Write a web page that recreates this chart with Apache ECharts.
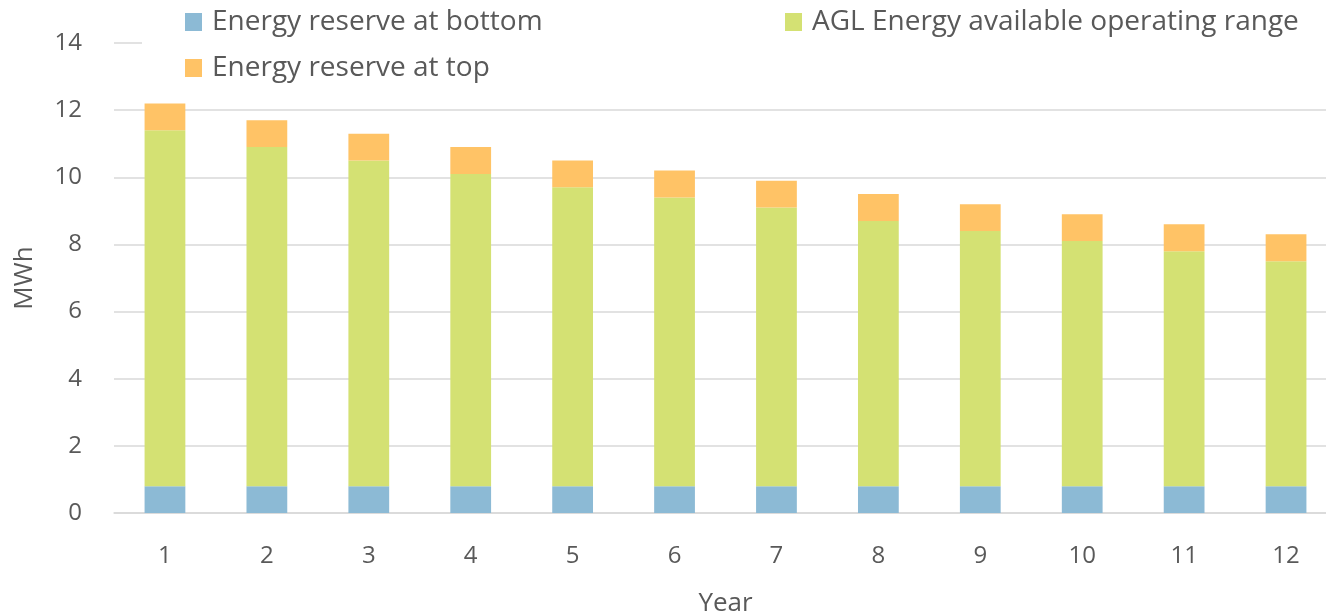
<!DOCTYPE html>
<html>
<head>
<meta charset="utf-8">
<script src="https://cdn.jsdelivr.net/npm/echarts@6/dist/echarts.min.js"></script>
<style>
  html, body { margin: 0; padding: 0; background: #fff; }
  #chart { width: 1326px; height: 614px; }
</style>
</head>
<body>
<div id="chart"></div>
<script>
const years = ['1', '2', '3', '4', '5', '6', '7', '8', '9', '10', '11', '12']
const reserveBottom = [0.8, 0.8, 0.8, 0.8, 0.8, 0.8, 0.8, 0.8, 0.8, 0.8, 0.8, 0.8]
const operatingRange = [10.6, 10.1, 9.7, 9.3, 8.9, 8.6, 8.3, 7.9, 7.6, 7.3, 7.0, 6.7]
const reserveTop = [0.8, 0.8, 0.8, 0.8, 0.8, 0.8, 0.8, 0.8, 0.8, 0.8, 0.8, 0.8]

const font = '"Open Sans", sans-serif'
const grey = '#595959'

const legendText = { fontSize: 28, lineHeight: 28, color: grey, fontFamily: font, padding: [0, 0, 0, 5] }

const myChart = echarts.init(document.getElementById('chart'))
const option = {
  animation: false,
  textStyle: { fontFamily: font, color: grey },
  grid: { left: 114, top: 43, width: 1223, bottom: 101, outerBoundsMode: 'none' },
  legend: [
    {
      left: 180, top: 3,
      orient: 'vertical',
      itemWidth: 17, itemHeight: 18, itemGap: 18,
      icon: 'rect',
      textStyle: legendText,
      data: ['Energy reserve at bottom', 'Energy reserve at top']
    },
    {
      left: 780, top: 3,
      itemWidth: 17, itemHeight: 18,
      icon: 'rect',
      textStyle: legendText,
      data: ['AGL Energy available operating range']
    }
  ],
  graphic: [
    // the legend band hides the top gridline, as in the original
    { type: 'rect', left: 142, top: 38, z: 5, shape: { width: 1200, height: 10 }, style: { fill: '#fff' } }
  ],
  xAxis: {
    type: 'category',
    data: years,
    name: 'Year',
    nameLocation: 'middle',
    nameGap: 78,
    nameTextStyle: { fontSize: 26, color: grey },
    axisTick: { show: false },
    axisLine: { lineStyle: { color: '#d9d9d9', width: 1.5 } },
    axisLabel: { fontSize: 24, color: grey, margin: 31 }
  },
  yAxis: {
    type: 'value',
    min: 0, max: 14, interval: 2,
    name: 'MWh',
    nameLocation: 'middle',
    nameGap: 76,
    nameTextStyle: { fontSize: 26, color: grey },
    axisLabel: { fontSize: 24, color: grey, margin: 32 },
    splitLine: { lineStyle: { color: '#d9d9d9', width: 1.5 } }
  },
  series: [
    {
      name: 'Energy reserve at bottom',
      type: 'bar', stack: 'e', barWidth: '40%',
      itemStyle: { color: '#8cbad5' },
      data: reserveBottom
    },
    {
      name: 'AGL Energy available operating range',
      type: 'bar', stack: 'e',
      itemStyle: { color: '#d4e173' },
      data: operatingRange
    },
    {
      name: 'Energy reserve at top',
      type: 'bar', stack: 'e',
      itemStyle: { color: '#ffc366' },
      data: reserveTop
    }
  ]
}
myChart.setOption(option)
</script>
</body>
</html>
